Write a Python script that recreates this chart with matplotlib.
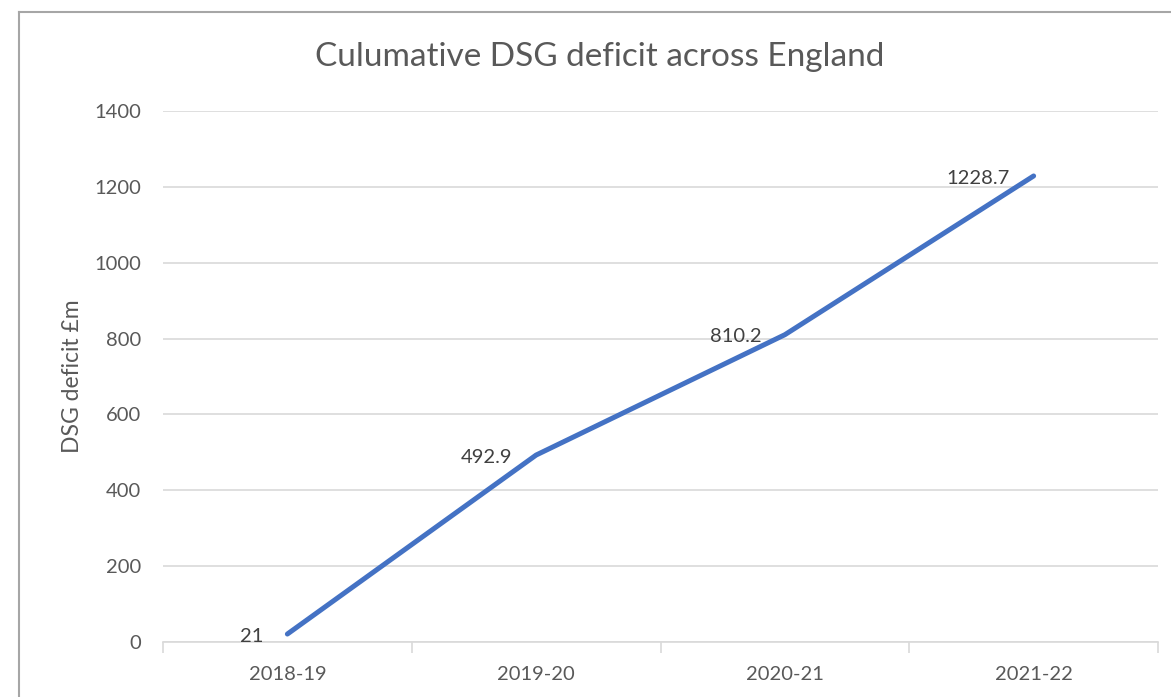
import matplotlib.pyplot as plt
from matplotlib.lines import Line2D

# data
years = ['2018-19', '2019-20', '2020-21', '2021-22']
deficit = [21, 492.9, 810.2, 1228.7]
y_ticks = [0, 200, 400, 600, 800, 1000, 1200, 1400]

plt.rcParams['font.family'] = ['Lato', 'DejaVu Sans']
text_col = '#595959'
grid_col = '#d9d9d9'

fig = plt.figure(figsize=(11.71, 6.97), dpi=100)
ax = fig.add_axes([163 / 1171, 1 - 642 / 697, (1158 - 163) / 1171, (642 - 111) / 697])

x = list(range(len(years)))
ax.plot(x, deficit, color='#4472C4', linewidth=3.6, solid_capstyle='round', zorder=3)

# data labels to the left of each point
for xi, v in zip(x, deficit):
    ax.annotate(f'{v:g}', (xi, v), xytext=(-17, -1.5), textcoords='offset points',
                ha='right', va='center', fontsize=14.5, color='#404040')

ax.set_xlim(-0.5, len(years) - 0.5)
ax.set_ylim(0, 1400)
ax.set_yticks(y_ticks)
ax.set_xticks(x)
ax.set_xticklabels(years)
ax.set_xticks([i - 0.5 for i in range(len(years) + 1)], minor=True)

ax.grid(axis='y', color=grid_col, linewidth=1.2)
ax.set_axisbelow(True)
for side in ['top', 'right', 'left']:
    ax.spines[side].set_visible(False)
ax.spines['bottom'].set_color(grid_col)
ax.spines['bottom'].set_linewidth(1.2)

ax.tick_params(axis='y', length=0, pad=16, labelsize=14.5, labelcolor=text_col)
ax.tick_params(axis='x', which='major', length=0, pad=17, labelsize=14.5, labelcolor=text_col)
ax.tick_params(axis='x', which='minor', length=8, width=1.2, color=grid_col)

ax.set_ylabel('DSG deficit £m', fontsize=16.5, color=text_col, labelpad=8)
fig.text(600 / 1171, 1 - 57 / 697, 'Culumative DSG deficit across England',
         ha='center', va='center', fontsize=24, color=text_col)

# chart border (top and left visible in reference)
fig.add_artist(Line2D([19 / 1171, 19 / 1171], [0, 1 - 12 / 697], color='#a6a6a6', linewidth=1.5,
                      transform=fig.transFigure))
fig.add_artist(Line2D([19 / 1171, 1], [1 - 12 / 697, 1 - 12 / 697], color='#a6a6a6', linewidth=1.5,
                      transform=fig.transFigure))

fig.savefig('out.png', dpi=100)
